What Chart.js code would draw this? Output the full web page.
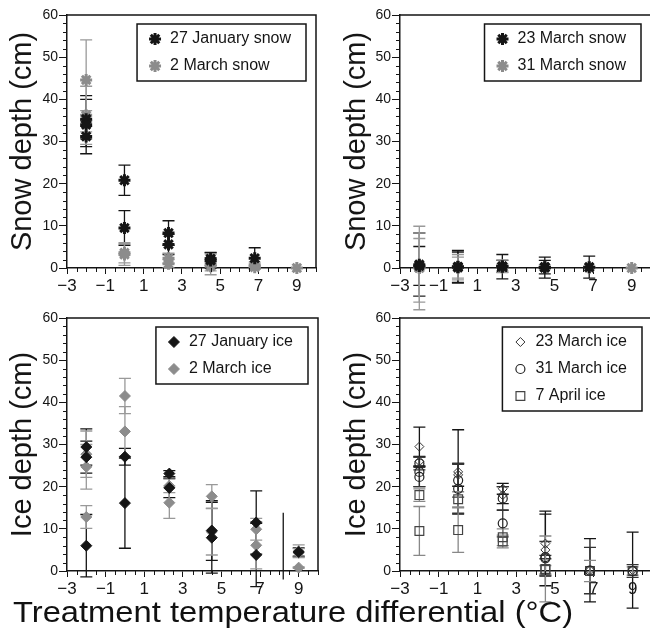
<!DOCTYPE html>
<html>
<head>
<meta charset="utf-8">
<script src="https://cdn.jsdelivr.net/npm/chart.js@4.4.0/dist/chart.umd.min.js"></script>
<style>
  body { margin: 0; background: #fff; width: 650px; height: 635px; overflow: hidden; position: relative;
         font-family: 'Liberation Sans', Arial, Helvetica, sans-serif; }
  canvas { position: absolute; }
  #xtitle { position: absolute; left: 13px; top: 594px; font-size: 30px; line-height: 36px; white-space: nowrap;
            color: #111; transform-origin: left top; transform: scaleX(1.09); }
</style>
</head>
<body>
<canvas id="snowA" width="325" height="320" style="left:0;top:0"></canvas>
<canvas id="snowB" width="335" height="320" style="left:325px;top:0"></canvas>
<canvas id="iceA" width="325" height="335" style="left:0;top:300px"></canvas>
<canvas id="iceB" width="335" height="335" style="left:325px;top:300px"></canvas>
<div id="xtitle">Treatment temperature differential (°C)</div>
<script>
'use strict';

// axis ticks
let xTicks = [-3, -1, 1, 3, 5, 7, 9];
let yTicks = [0, 10, 20, 30, 40, 50, 60];

// each point: [temperature differential, depth, error]
let jan27Snow = [[-2, 31.2, 2.4], [-2, 35.3, 4.7], [-2, 34.0, 6.9], [0, 20.8, 3.6], [0, 9.5, 4.1],
  [2.3, 8.3, 2.9], [2.3, 5.6, 2.4], [4.5, 2.2, 1.5], [4.5, 1.8, 1.8], [6.8, 2.3, 2.5]];
let mar2Snow = [[-2, 44.6, 9.5], [-2, 36.2, 6.9], [-2, 34.8, 2.5], [0, 3.6, 2.4], [0, 3.2, 2.6],
  [2.3, 2.3, 1.2], [2.3, 1.0, 1.0], [4.5, 1.3, 2.0], [4.5, 0.4, 2.0], [6.8, 0.8, 0.6], [6.8, 0.2, 0.4], [9, 0, 0]];

let mar23Snow = [[-2, 0.8, 7.5], [-2, 0.5, 4.6], [0, 0.3, 3.9], [0, 0.2, 3.6], [2.3, 0.3, 2.9], [2.3, 0.4, 1.4],
  [4.5, 0.1, 2.5], [4.5, 0.2, 1.6], [6.8, 0.2, 2.6]];
let mar31Snow = [[-2, 0, 9.9], [-2, 0.1, 8.2], [-2, 0.2, 6.8], [0, 0.2, 3.0], [0, 0.1, 2.5], [2.3, 0.4, 1.5],
  [2.3, 0.2, 0.8], [4.5, 0.2, 0.6], [6.8, 0.1, 0.3], [9, 0, 0]];

let jan27Ice = [[-2, 29.4, 4.3], [-2, 27.0, 3.8], [-2, 6.0, 7.4], [0, 27.1, 2.0], [0, 16.1, 10.7],
  [2.3, 23.1, 0.7], [2.3, 19.7, 2.3], [4.5, 9.6, 7.1], [4.5, 7.9, 8.4], [6.8, 11.5, 7.5], [6.8, 3.8, 7.5], [9, 4.5, 1.0]];
let jan27IceStray = [[8.2, 5.9, 7.9]];
let mar2Ice = [[-2, 27.7, 5.5], [-2, 24.7, 5.3], [-2, 12.8, 2.7], [0, 41.5, 4.2], [0, 33.1, 5.9],
  [2.3, 20.2, 1.6], [2.3, 16.2, 3.7], [4.5, 17.7, 2.8], [4.5, 9.3, 5.5], [6.8, 9.9, 2.6], [6.8, 6.1, 5.6],
  [9, 4.7, 1.5], [9, 4.3, 1.0], [9, 0.8, 0.2]];

let mar23Ice = [[-2, 29.5, 4.6], [-2, 26.0, 1.2], [0, 23.5, 10.0], [0, 22.8, 2.7], [2.3, 19.5, 1.3], [2.3, 18.0, 2.0],
  [4.5, 6.5, 7.7], [4.5, 5.0, 8.5], [6.8, 0.2, 7.5], [9, 0.2, 9.0]];
let mar31Ice = [[-2, 25.5, 1.5], [-2, 23.5, 3.5], [-2, 22.3, 2.3], [0, 21.5, 4.0], [0, 19.5, 5.8],
  [2.3, 17.2, 2.8], [2.3, 11.3, 3.2], [4.5, 3.3, 0.4], [4.5, 3.0, 4.0], [6.8, 0.1, 5.5], [9, 0, 1.5]];
let apr7Ice = [[-2, 18.0, 1.5], [-2, 9.5, 5.8], [0, 17.0, 1.8], [0, 9.7, 5.3], [2.3, 8.0, 2.0], [2.3, 7.0, 1.5],
  [4.5, 0.5, 7.8], [4.5, 0.3, 1.0], [6.8, 0, 2.5], [9, 0, 1.0]];

const FONT = "'Liberation Sans', Arial, Helvetica, sans-serif";
const INK = '#151515';
const GREY = '#8c8c8c';

function pts(arr) {
  return arr.map(p => ({ x: p[0], y: p[1], e: p[2] }));
}

// vertical error bars with caps, under the points
const errorBars = {
  id: 'errorBars',
  beforeDatasetsDraw(chart) {
    let ctx = chart.ctx;
    let xs = chart.scales.x, ys = chart.scales.y;
    chart.data.datasets.forEach(ds => {
      ctx.save();
      ctx.strokeStyle = ds.barColor;
      ctx.lineWidth = 1.3;
      ds.data.forEach(p => {
        if (!p.e) return;
        let px = xs.getPixelForValue(p.x);
        let top = ys.getPixelForValue(p.y + p.e);
        let bot = ys.getPixelForValue(p.y - p.e);
        ctx.beginPath();
        ctx.moveTo(px, top);
        ctx.lineTo(px, bot);
        if (ds.caps !== false) {
          ctx.moveTo(px - 6, top); ctx.lineTo(px + 6, top);
          ctx.moveTo(px - 6, bot); ctx.lineTo(px + 6, bot);
        }
        ctx.stroke();
      });
      ctx.restore();
    });
  }
};

// top/right frame and minor ticks
const frame = {
  id: 'frame',
  afterDraw(chart) {
    let ctx = chart.ctx, a = chart.chartArea;
    let xs = chart.scales.x, ys = chart.scales.y;
    ctx.save();
    ctx.strokeStyle = INK;
    ctx.lineWidth = 1.5;
    ctx.beginPath();
    ctx.moveTo(a.left, a.top);
    ctx.lineTo(a.right, a.top);
    ctx.lineTo(a.right, a.bottom);
    ctx.stroke();
    ctx.lineWidth = 1;
    ctx.beginPath();
    for (let v = ys.min; v <= ys.max; v += 2) {
      if (v % 10 === 0) continue;
      let py = Math.round(ys.getPixelForValue(v)) + 0.5;
      ctx.moveTo(a.left - 4, py);
      ctx.lineTo(a.left, py);
    }
    for (let v = xs.min; v <= xs.max; v += 0.5) {
      if (xTicks.includes(v)) continue;
      let px = Math.round(xs.getPixelForValue(v)) + 0.5;
      ctx.moveTo(px, a.bottom);
      ctx.lineTo(px, a.bottom + 4);
    }
    ctx.stroke();
    ctx.restore();
  }
};

// boxed legend in the top right corner of the plot
const boxLegend = {
  id: 'boxLegend',
  afterDraw(chart) {
    let ctx = chart.ctx, a = chart.chartArea;
    let items = chart.data.datasets.filter(d => d.label);
    ctx.save();
    ctx.font = '16px ' + FONT;
    let textW = Math.max(...items.map(d => ctx.measureText(d.label).width));
    let w = textW + 48, h = items.length * 27 + 3;
    let left = a.right - 10 - w, top = a.top + 9;
    ctx.strokeStyle = INK;
    ctx.lineWidth = 1.5;
    ctx.strokeRect(left, top, w, h);
    items.forEach((d, i) => {
      let cy = top + 15 + i * 27;
      ctx.fillStyle = d.backgroundColor;
      ctx.strokeStyle = d.borderColor;
      ctx.lineWidth = d.borderWidth;
      Chart.helpers.drawPoint(ctx, { pointStyle: d.pointStyle, radius: d.pointRadius, borderWidth: d.borderWidth, rotation: 0 }, left + 18, cy);
      ctx.fillStyle = INK;
      ctx.textBaseline = 'middle';
      ctx.textAlign = 'left';
      ctx.fillText(d.label, left + 33, cy);
    });
    ctx.restore();
  }
};

function series(label, arr, style, color, bar, radius, border, fill) {
  return {
    label: label,
    data: pts(arr),
    pointStyle: style,
    pointRadius: radius,
    pointHoverRadius: radius,
    borderColor: color,
    backgroundColor: fill === undefined ? color : fill,
    borderWidth: border,
    barColor: bar,
    clip: false
  };
}

function panel(id, yTitle, yWidth, titlePad, pad, datasets) {
  return new Chart(document.getElementById(id), {
    type: 'scatter',
    data: { datasets: datasets },
    plugins: [errorBars, frame, boxLegend],
    options: {
      responsive: false,
      animation: false,
      devicePixelRatio: 1,
      layout: { padding: pad },
      plugins: { legend: { display: false }, tooltip: { enabled: false } },
      scales: {
        x: {
          type: 'linear', min: -3, max: 10,
          afterBuildTicks: s => { s.ticks = xTicks.map(v => ({ value: v })); },
          afterFit: s => { s.height = 32; },
          border: { color: INK, width: 1.5 },
          grid: { drawOnChartArea: false, tickLength: 6, tickColor: INK, tickWidth: 1 },
          ticks: {
            color: INK, padding: 2, maxRotation: 0, autoSkip: false,
            font: { family: FONT, size: 17 },
            callback: v => v < 0 ? '\u2212' + Math.abs(v) : String(v)
          }
        },
        y: {
          min: 0, max: 60,
          afterBuildTicks: s => { s.ticks = yTicks.map(v => ({ value: v })); },
          afterFit: s => { s.width = yWidth; },
          border: { color: INK, width: 1.5 },
          grid: { drawOnChartArea: false, tickLength: 8, tickColor: INK, tickWidth: 1 },
          ticks: { color: INK, padding: 1, font: { family: FONT, size: 14 } },
          title: { display: true, text: yTitle, color: INK, padding: { top: titlePad, bottom: 0 }, font: { family: FONT, size: 29 } }
        }
      }
    }
  });
}

panel('snowA', 'Snow depth (cm)', 67, 6, { top: 15, right: 7, bottom: 20, left: 0 }, [
  series('27 January snow', jan27Snow, 'star', INK, INK, 6, 3),
  series('2 March snow', mar2Snow, 'star', GREY, '#999', 6, 3)
]);

panel('snowB', 'Snow depth (cm)', 75, 15, { top: 15, right: 8, bottom: 20, left: 0 }, [
  series('23 March snow', mar23Snow, 'star', INK, INK, 6, 3),
  series('31 March snow', mar31Snow, 'star', GREY, '#999', 6, 3)
]);

let stray = series('', jan27IceStray, 'circle', INK, INK, 0, 0);
stray.caps = false;
panel('iceA', 'Ice depth (cm)', 67, 6, { top: 18, right: 7, bottom: 32, left: 0 }, [
  series('27 January ice', jan27Ice, 'rectRot', INK, INK, 5.5, 1),
  series('2 March ice', mar2Ice, 'rectRot', GREY, '#999', 5.5, 1),
  stray
]);

panel('iceB', 'Ice depth (cm)', 75, 15, { top: 18, right: 8, bottom: 32, left: 0 }, [
  series('23 March ice', mar23Ice, 'rectRot', '#333', INK, 4.5, 1, 'rgba(255,255,255,0)'),
  series('31 March ice', mar31Ice, 'circle', '#222', '#333', 4.5, 1.2, 'rgba(255,255,255,0)'),
  series('7 April ice', apr7Ice, 'rect', '#444', '#888', 6.2, 1.2, 'rgba(255,255,255,0)')
]);
</script>
</body>
</html>
